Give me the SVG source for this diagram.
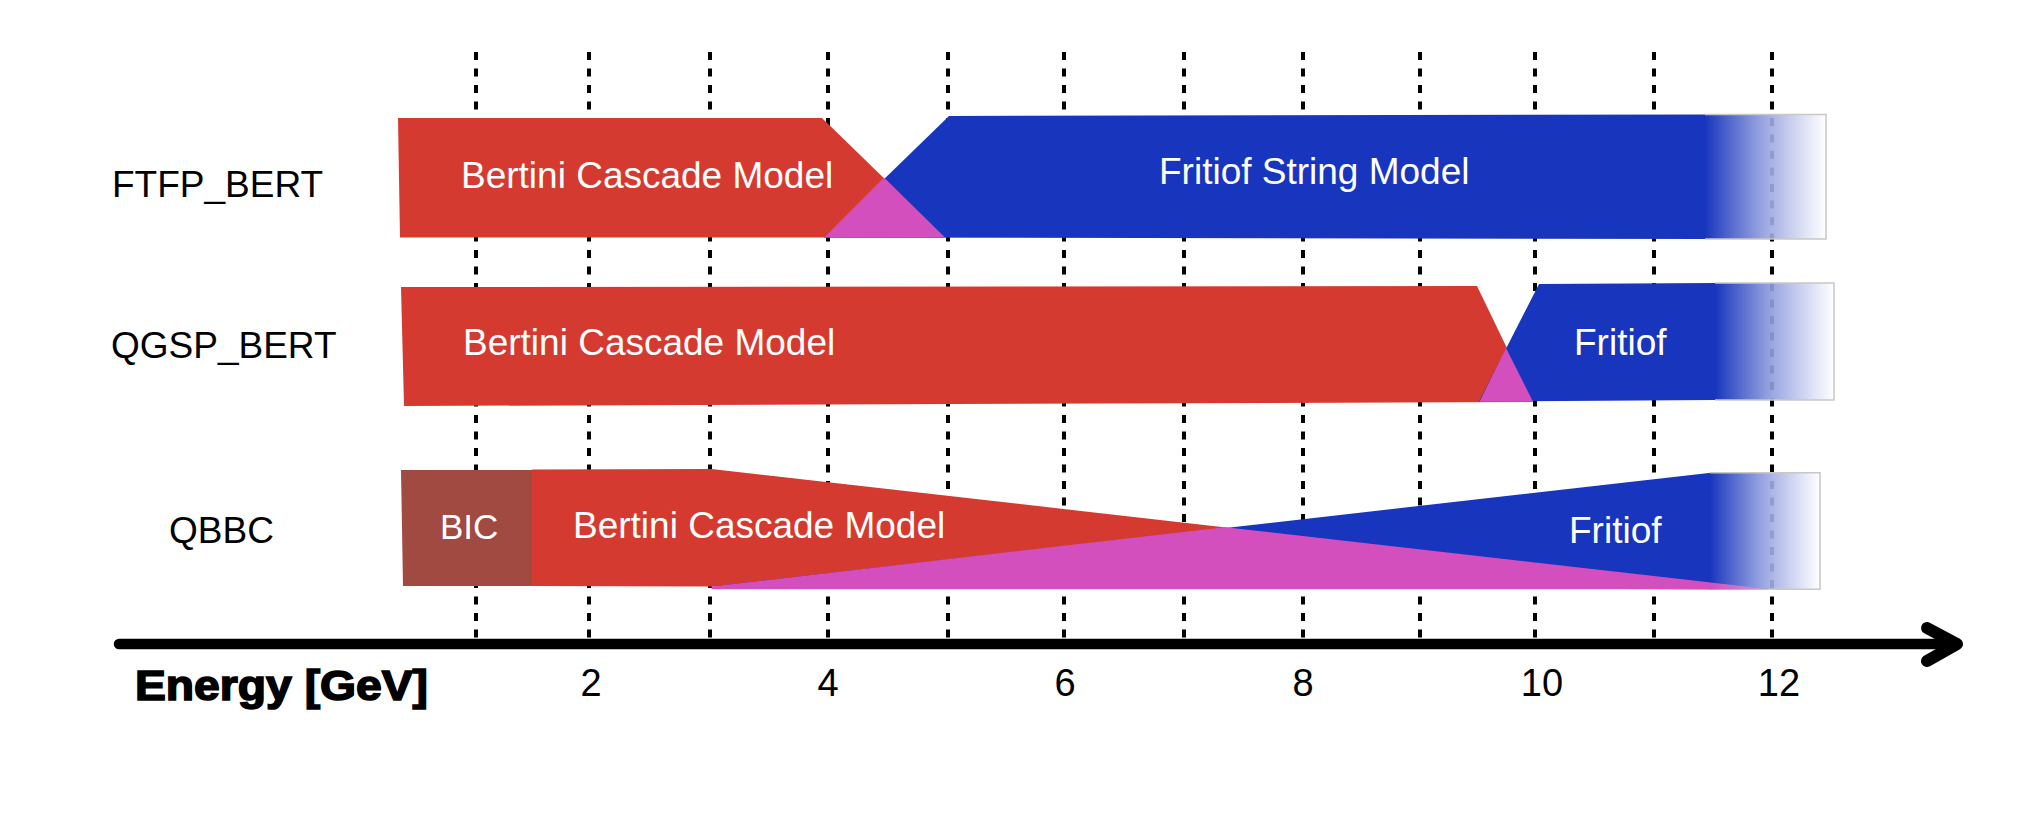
<svg xmlns="http://www.w3.org/2000/svg" width="2021" height="826" viewBox="0 0 2021 826">
  <defs>
    <linearGradient id="fade" x1="0" y1="0" x2="1" y2="0">
      <stop offset="0" stop-color="#1836bd" stop-opacity="1"/>
      <stop offset="0.45" stop-color="#8a98dc" stop-opacity="0.92"/>
      <stop offset="1" stop-color="#ffffff" stop-opacity="0.85"/>
    </linearGradient>
    <linearGradient id="tail" gradientUnits="userSpaceOnUse" x1="1710" y1="0" x2="1772" y2="0">
      <stop offset="0" stop-color="#d44fbe"/>
      <stop offset="1" stop-color="#c0a6e2"/>
    </linearGradient>
    <style>
      .grid { stroke: #000; stroke-width: 4; stroke-dasharray: 8 8.5; fill: none; }
      .red { fill: #d53a30; }
      .blue { fill: #1836bd; }
      .mix { fill: #d44fbe; }
      .bic { fill: #a14a42; }
      .fade { fill: url(#fade); }
      .edge { fill: none; stroke: #c8c8c8; stroke-width: 1.5; }
      .in { font-family: "Liberation Sans", Arial, sans-serif; font-size: 37px; fill: #fff; }
      .lbl { font-family: "Liberation Sans", Arial, sans-serif; font-size: 37px; fill: #000; }
      .tick { font-family: "Liberation Sans", Arial, sans-serif; font-size: 38px; fill: #000; text-anchor: middle; }
      .axis { stroke: #000; stroke-width: 10.5; stroke-linecap: round; fill: none; }
      .head { stroke: #000; stroke-width: 12; stroke-linecap: round; stroke-linejoin: round; fill: none; }
    </style>
  </defs>
  <rect width="2021" height="826" fill="#fff"/>

  <g id="grid">
    <line class="grid" x1="476" y1="52" x2="476" y2="644"/>
    <line class="grid" x1="589" y1="52" x2="589" y2="644"/>
    <line class="grid" x1="710" y1="52" x2="710" y2="644"/>
    <line class="grid" x1="828" y1="52" x2="828" y2="644"/>
    <line class="grid" x1="948" y1="52" x2="948" y2="644"/>
    <line class="grid" x1="1064" y1="52" x2="1064" y2="644"/>
    <line class="grid" x1="1184" y1="52" x2="1184" y2="644"/>
    <line class="grid" x1="1303" y1="52" x2="1303" y2="644"/>
    <line class="grid" x1="1420" y1="52" x2="1420" y2="644"/>
    <line class="grid" x1="1535" y1="52" x2="1535" y2="644"/>
    <line class="grid" x1="1654" y1="52" x2="1654" y2="644"/>
    <line class="grid" x1="1772" y1="52" x2="1772" y2="644"/>
  </g>

  <g id="ftfp_bert">
    <text class="lbl" x="112" y="197">FTFP_BERT</text>
    <g id="ftfp-bertini">
      <polygon class="red" points="398,118 822,118 945,237.5 400,237.5"/>
      <text class="in" x="461" y="188">Bertini Cascade Model</text>
    </g>
    <g id="ftfp-fritiof">
      <polygon class="blue" points="949,116 1706,114.5 1706,239 824,237.5"/>
      <polygon class="mix" points="824,237.5 884,177.5 945,237.5"/>
      <rect class="fade" x="1705" y="114.5" width="121" height="124.5"/>
      <path class="edge" d="M1705,114.5 H1826 V239 H1705"/>
      <text class="in" x="1159" y="184">Fritiof String Model</text>
    </g>
  </g>

  <g id="qgsp_bert">
    <text class="lbl" x="111" y="358">QGSP_BERT</text>
    <g id="qgsp-bertini">
      <polygon class="red" points="401,287 1477,286 1533,402 404,406"/>
      <text class="in" x="463" y="355">Bertini Cascade Model</text>
    </g>
    <g id="qgsp-fritiof">
      <polygon class="blue" points="1539,284 1716,283 1716,400 1479,401.5"/>
      <polygon class="mix" points="1479.5,401.8 1506,348 1533,401.8"/>
      <rect class="fade" x="1715" y="283" width="119" height="117"/>
      <path class="edge" d="M1715,283 H1834 V400 H1715"/>
      <text class="in" x="1574" y="355">Fritiof</text>
    </g>
  </g>

  <g id="qbbc">
    <text class="lbl" x="169" y="543">QBBC</text>
    <g id="qbbc-bic">
      <polygon class="bic" points="401,470 533,470 533,586 403,586"/>
      <text class="in" x="440" y="539" style="font-size:35px">BIC</text>
    </g>
    <g id="qbbc-bertini">
      <polygon class="red" points="532,469.5 711.6,469 1770,589.3 711.6,586.5 532,586"/>
      <text class="in" x="573" y="538">Bertini Cascade Model</text>
    </g>
    <g id="qbbc-fritiof">
      <polygon class="blue" points="711.6,586.5 1711,472.7 1711,589.3"/>
      <polygon class="mix" points="711.6,586.5 1225,527.2 1711,582.6 1711,589.3 711.6,589.3"/>
      <rect class="fade" x="1710" y="472.7" width="110" height="116.6"/>
      <polygon points="1710,582.5 1771,589.3 1710,589.3" fill="url(#tail)"/>
      <path class="edge" d="M1710,472.7 H1820 V589.3 H1770"/>
      <text class="in" x="1569" y="542.7">Fritiof</text>
    </g>
  </g>

  <g id="connectors">
    <line class="axis" x1="119" y1="644" x2="1952" y2="644"/>
    <path class="head" d="M1927,628 L1957,644 L1927,661"/>
  </g>

  <g id="axis-labels">
    <text x="135" y="700" textLength="293" lengthAdjust="spacingAndGlyphs" style="font-family:'Liberation Sans',Arial,sans-serif;font-size:42px;font-weight:bold;stroke:#000;stroke-width:1.6">Energy [GeV]</text>
    <text class="tick" x="591" y="696">2</text>
    <text class="tick" x="828" y="696">4</text>
    <text class="tick" x="1065" y="696">6</text>
    <text class="tick" x="1303" y="696">8</text>
    <text class="tick" x="1542" y="696">10</text>
    <text class="tick" x="1779" y="696">12</text>
  </g>
</svg>
